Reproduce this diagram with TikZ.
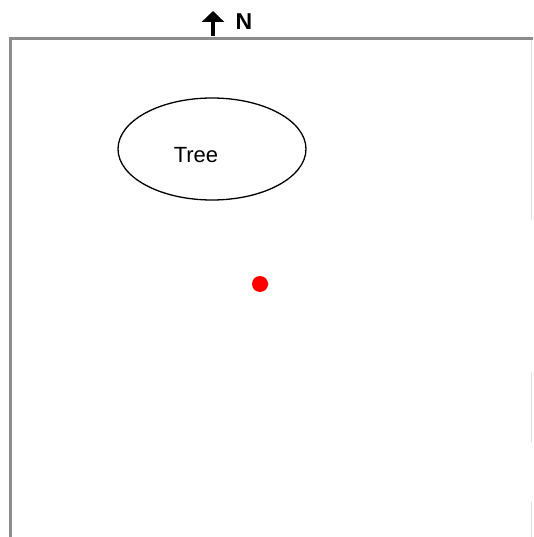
\documentclass[tikz,border=0pt]{standalone}
\usepackage{fontspec}
\setmainfont{Liberation Sans}
\usepackage{tikz}
\usetikzlibrary{arrows.meta,shapes.geometric}

\begin{document}
\begin{tikzpicture}[x=1pt,y=-1pt]
\useasboundingbox (0,0) rectangle (533,537);
\draw [gray!90,line width=3pt] (10,537) -- (10,39) -- (533,39);
\draw [gray!25,line width=1pt] (531,40) -- (531,220);
\draw [gray!25,line width=1pt] (531,372) -- (531,442);
\draw [gray!25,line width=1pt] (531,502) -- (531,537);
\coordinate (nfoot) at (213,36);
\coordinate (ntip) at (213,11);
\draw [line width=4pt,-{Triangle[length=11pt,width=22pt]}] (nfoot) -- (ntip);
\node (north) at (244,22) {\fontsize{23}{23}\selectfont\bfseries N};
\node (tree) [draw,line width=1.3pt,ellipse,minimum width=188pt,minimum height=102pt,inner sep=0pt] at (212,149) {};
\node (treelbl) at (196,155) {\fontsize{22}{22}\selectfont Tree};
\fill [gray!30] (265,284) circle (4);
\fill [red] (260,284) circle (8) node (spot) {};
\end{tikzpicture}
\end{document}
